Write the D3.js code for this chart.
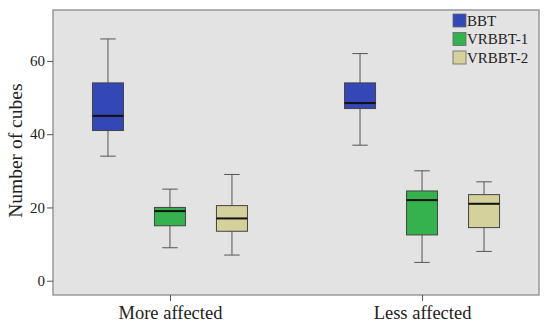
<!DOCTYPE html>
<html>
<head>
<meta charset="utf-8">
<script src="https://cdn.jsdelivr.net/npm/d3@7"></script>
<style>
  body { margin: 0; background: #fff; }
  svg text { font-family: "Liberation Serif", "DejaVu Serif", serif; fill: #222; }
</style>
</head>
<body>
<div id="chart"></div>
<script>
'use strict'

// data
const groups = ['More affected', 'Less affected']
const series = ['BBT', 'VRBBT-1', 'VRBBT-2']
const colors = ['#3447b6', '#35b24d', '#d4d19c']
// [low whisker, Q1, median, Q3, high whisker] per group, per series
const bbtStats   = [[34, 41, 45, 54, 66], [37, 47, 48.5, 54, 62]]
const vr1Stats   = [[9, 15, 19, 20, 25], [5, 12.5, 22, 24.5, 30]]
const vr2Stats   = [[7, 13.5, 17, 20.5, 29], [8, 14.5, 21, 23.5, 27]]
const yTicks = [0, 20, 40, 60]

const stats = [bbtStats, vr1Stats, vr2Stats]

////////////////////////////////////
//////////// svg setup /////////////
////////////////////////////////////
const svgWidth = 550
const svgHeight = 329
const margin = {left: 53, right: 11, top: 10, bottom: 34}
const width = svgWidth - margin.left - margin.right
const height = svgHeight - margin.top - margin.bottom

const svg = d3.select('#chart').append('svg')
    .attr('width', svgWidth)
    .attr('height', svgHeight)

const g = svg.append('g')
    .attr('transform', `translate(${margin.left},${margin.top})`)

const x = d3.scalePoint().domain(groups).range([0, width]).padding(0.464)
const xs = d3.scalePoint().domain(series).range([-62, 62])
const boxW = 31
const y = d3.scaleLinear().domain([-3.9, 73.9]).range([height, 0])

// plot background
g.append('rect')
    .attr('width', width).attr('height', height)
    .attr('fill', '#e3e3e3')
    .attr('stroke', '#8a8a8a').attr('stroke-width', 1.3)

// axes
const yAxis = g.append('g')
    .call(d3.axisLeft(y).tickValues(yTicks).tickSize(6).tickPadding(2))
yAxis.select('.domain').remove()
yAxis.selectAll('line').attr('stroke', '#555')
yAxis.selectAll('text').style('font-size', '15px').attr('fill', '#222')

const xAxis = g.append('g')
    .attr('transform', `translate(0,${height})`)
    .call(d3.axisBottom(x).tickSize(6).tickPadding(5))
xAxis.select('.domain').remove()
xAxis.selectAll('line').attr('stroke', '#555')
xAxis.selectAll('text').style('font-size', '18.5px').attr('fill', '#222')

svg.append('text')
    .attr('transform', `translate(22,${margin.top + y(35.5)}) rotate(-90)`)
    .attr('text-anchor', 'middle')
    .style('font-size', '19.5px')
    .text('Number of cubes')

// boxes
series.forEach((s, si) => {
    groups.forEach((grp, gi) => {
        const [lo, q1, med, q3, hi] = stats[si][gi]
        const cx = x(grp) + xs(s)
        const b = g.append('g')
        b.append('line')
            .attr('x1', cx).attr('x2', cx).attr('y1', y(hi)).attr('y2', y(lo))
            .attr('stroke', '#555').attr('stroke-width', 1)
        ;[lo, hi].forEach(v => {
            b.append('line')
                .attr('x1', cx - boxW / 4).attr('x2', cx + boxW / 4)
                .attr('y1', y(v)).attr('y2', y(v))
                .attr('stroke', '#555').attr('stroke-width', 1)
        })
        b.append('rect')
            .attr('x', cx - boxW / 2).attr('width', boxW)
            .attr('y', y(q3)).attr('height', y(q1) - y(q3))
            .attr('fill', colors[si])
            .attr('stroke', '#444').attr('stroke-width', 1)
        b.append('line')
            .attr('x1', cx - boxW / 2).attr('x2', cx + boxW / 2)
            .attr('y1', y(med)).attr('y2', y(med))
            .attr('stroke', '#111').attr('stroke-width', 2)
    })
})

// legend
const legend = svg.append('g').attr('transform', 'translate(453,14)')
series.forEach((s, i) => {
    const row = legend.append('g').attr('transform', `translate(0,${i * 18.5})`)
    row.append('rect')
        .attr('width', 13).attr('height', 13)
        .attr('fill', colors[i]).attr('stroke', '#666').attr('stroke-width', 0.8)
    row.append('text')
        .attr('x', 14).attr('y', 11.5)
        .style('font-size', '15px')
        .text(s)
})
</script>
</body>
</html>
